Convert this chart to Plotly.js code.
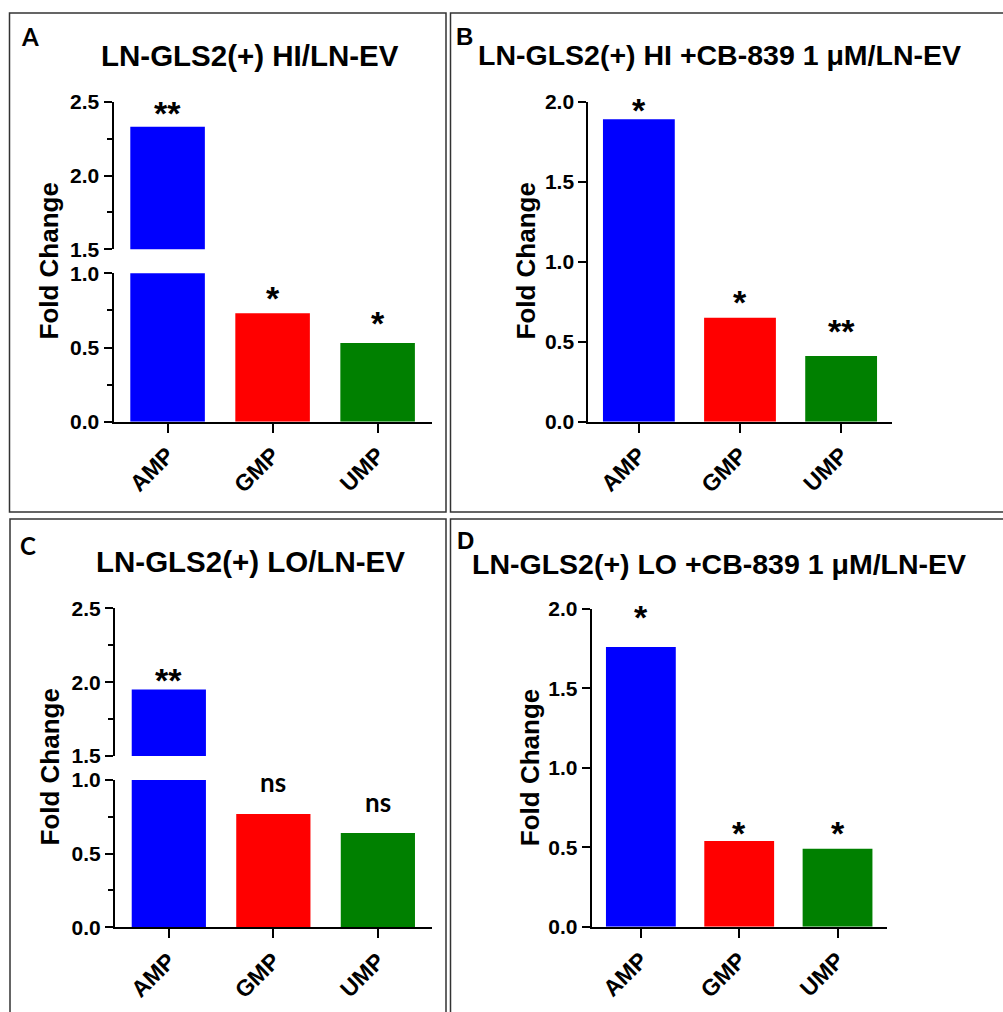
<!DOCTYPE html>
<html><head><meta charset="utf-8">
<script src="https://cdn.plot.ly/plotly-3.0.1.min.js"></script>
<style>html,body{margin:0;padding:0;background:#fff}#chart{width:1003px;height:1012px}</style>
</head><body><div id="chart"></div>
<script>
// ---- data ----
const categories = ['AMP', 'GMP', 'UMP'];
const valuesA = [2.33, 0.73, 0.53];
const valuesB = [1.89, 0.65, 0.41];
const valuesC = [1.95, 0.77, 0.64];
const valuesD = [1.76, 0.54, 0.49];
const sigA = ['**', '*', '*'];
const sigB = ['*', '*', '**'];
const sigC = ['**', 'ns', 'ns'];
const sigD = ['*', '*', '*'];
const sigYA = [2.46, 0.87, 0.70];
const sigYB = [1.98, 0.78, 0.60];
const sigYC = [2.05, 0.97, 0.84];
const sigYD = [1.98, 0.62, 0.62];
const titles = ['LN-GLS2(+) HI/LN-EV', 'LN-GLS2(+) HI +CB-839 1 \u03bcM/LN-EV',
                'LN-GLS2(+) LO/LN-EV', 'LN-GLS2(+) LO +CB-839 1 \u03bcM/LN-EV'];
const panelLetters = ['A', 'B', 'C', 'D'];
const yTitle = 'Fold Change';

// ---- style ----
const barColors = ['#0000FF', '#FF0000', '#008000'];
const W = 1003, H = 1012;
const fx = v => v / W;
const fy = v => 1 - v / H;
const ARIAL = 'Liberation Sans, Arial, sans-serif';
const CALIBRI = 'Lato, Open Sans, sans-serif';

const panels = [
  {vals: valuesA, sig: sigA, sigY: sigYA, broken: true,
   xd: [113.5, 431.7], low: [421.7, 273.3], up: [249.3, 101.7], xr: [-0.515, 2.515],
   title: [250, 55], titleSize: 29.5, letter: [29.5, 36.5], ytitle: [48, 261.5], letterFont: CALIBRI},
  {vals: valuesB, sig: sigB, sigY: sigYB, broken: false,
   xd: [588.3, 891.7], low: [421.7, 101.7], xr: [-0.5, 2.5],
   title: [719, 55.5], titleSize: 28.5, letter: [464.7, 36], ytitle: [525, 261.5], letterFont: ARIAL},
  {vals: valuesC, sig: sigC, sigY: sigYC, broken: true,
   xd: [115, 431.7], low: [927.3, 780], up: [756, 608.3], xr: [-0.515, 2.515],
   title: [250, 561.7], titleSize: 29.5, letter: [28.3, 545.5], ytitle: [49, 767.5], letterFont: CALIBRI},
  {vals: valuesD, sig: sigD, sigY: sigYD, broken: false,
   xd: [591.7, 886.7], low: [926.7, 609], xr: [-0.5, 2.5],
   title: [719, 564], titleSize: 28.5, letter: [465.3, 540.5], ytitle: [529.7, 767.5], letterFont: ARIAL}
];

const traces = [];
const layout = {
  width: W, height: H, margin: {l: 0, r: 0, t: 0, b: 0},
  paper_bgcolor: '#fff', plot_bgcolor: 'rgba(0,0,0,0)',
  showlegend: false, bargap: 0.29,
  annotations: [], shapes: []
};

const tickFont = {family: ARIAL, size: 21, color: '#000', weight: 'bold'};
function yAxisBase(range, domain, anchor, minor) {
  const ax = {
    domain: domain, range: range, anchor: anchor,
    showline: true, linecolor: '#000', linewidth: 2,
    ticks: 'outside', ticklen: 8, tickwidth: 2, tickcolor: '#000',
    tick0: 0, dtick: 0.5, tickformat: '.1f', tickfont: tickFont,
    showgrid: false, zeroline: false, fixedrange: true
  };
  if (minor) ax.minor = {dtick: 0.25, ticks: 'outside', ticklen: 5, tickwidth: 2, tickcolor: '#000', showgrid: false};
  return ax;
}

let yi = 1;
panels.forEach((p, i) => {
  const xn = i + 1;
  const xKey = xn === 1 ? 'xaxis' : 'xaxis' + xn;
  const xRef = xn === 1 ? 'x' : 'x' + xn;
  const yLowN = yi++;
  const yLowKey = yLowN === 1 ? 'yaxis' : 'yaxis' + yLowN;
  const yLowRef = yLowN === 1 ? 'y' : 'y' + yLowN;
  let yUpRef = null;

  layout[xKey] = {
    domain: [fx(p.xd[0]), fx(p.xd[1])], range: p.xr, anchor: yLowRef, type: 'category',
    showline: true, linecolor: '#000', linewidth: 2,
    ticks: 'outside', ticklen: 9, tickwidth: 2, tickcolor: '#000',
    tickangle: -45, tickfont: {family: ARIAL, size: 23, color: '#000', weight: 'bold'},
    showgrid: false, zeroline: false, fixedrange: true
  };

  if (p.broken) {
    layout[yLowKey] = yAxisBase([0, 1.0], [fy(p.low[0]), fy(p.low[1])], xRef, true);
    const yUpN = yi++;
    yUpRef = 'y' + yUpN;
    layout['yaxis' + yUpN] = yAxisBase([1.5, 2.5], [fy(p.up[0]), fy(p.up[1])], xRef, true);
  } else {
    layout[yLowKey] = yAxisBase([0, 2.0], [fy(p.low[0]), fy(p.low[1])], xRef, false);
  }

  traces.push({type: 'bar', x: categories, y: p.vals, xaxis: xRef, yaxis: yLowRef,
    marker: {color: barColors, line: {width: 0}}, hoverinfo: 'skip'});
  if (yUpRef) traces.push({type: 'bar', x: categories, y: p.vals, xaxis: xRef, yaxis: yUpRef,
    marker: {color: barColors, line: {width: 0}}, hoverinfo: 'skip'});

  // significance labels
  categories.forEach((c, k) => {
    const yv = p.sigY[k];
    const ref = (yUpRef && yv >= 1.5) ? yUpRef : yLowRef;
    const isStar = p.sig[k].indexOf('*') >= 0;
    layout.annotations.push({
      x: c, y: yv, xref: xRef, yref: ref, text: p.sig[k], showarrow: false,
      xanchor: 'center', yanchor: 'middle', yshift: isStar ? -5 : 2,
      font: isStar ? {family: ARIAL, size: 34, color: '#000', weight: 'bold'}
                   : {family: CALIBRI, size: 26, color: '#000', weight: 'bold'}
    });
  });

  // title, letter, y title
  layout.annotations.push({x: fx(p.title[0]), y: fy(p.title[1]), xref: 'paper', yref: 'paper',
    text: titles[i], showarrow: false, xanchor: 'center', yanchor: 'middle',
    font: {family: ARIAL, size: p.titleSize, color: '#000', weight: 'bold'}});
  layout.annotations.push({x: fx(p.letter[0]), y: fy(p.letter[1]), xref: 'paper', yref: 'paper',
    text: panelLetters[i], showarrow: false, xanchor: 'center', yanchor: 'middle',
    font: {family: p.letterFont, size: 24, color: '#000', weight: 'bold'}});
  layout.annotations.push({x: fx(p.ytitle[0]), y: fy(p.ytitle[1]), xref: 'paper', yref: 'paper',
    text: yTitle, showarrow: false, xanchor: 'center', yanchor: 'middle', textangle: -90,
    font: {family: ARIAL, size: 26, color: '#000', weight: 'bold'}});
});

// panel borders
const borders = [[9.5, 13, 446, 512], [450.5, 13, 1010, 512], [10, 519, 446, 1020], [450.5, 519, 1010, 1020]];
borders.forEach(b => layout.shapes.push({type: 'rect', xref: 'paper', yref: 'paper',
  x0: fx(b[0]), x1: fx(b[2]), y0: fy(b[1]), y1: fy(b[3]),
  line: {color: '#333', width: 1.5}, fillcolor: 'rgba(0,0,0,0)'}));

Plotly.newPlot('chart', traces, layout, {staticPlot: true, displayModeBar: false});
</script></body></html>
